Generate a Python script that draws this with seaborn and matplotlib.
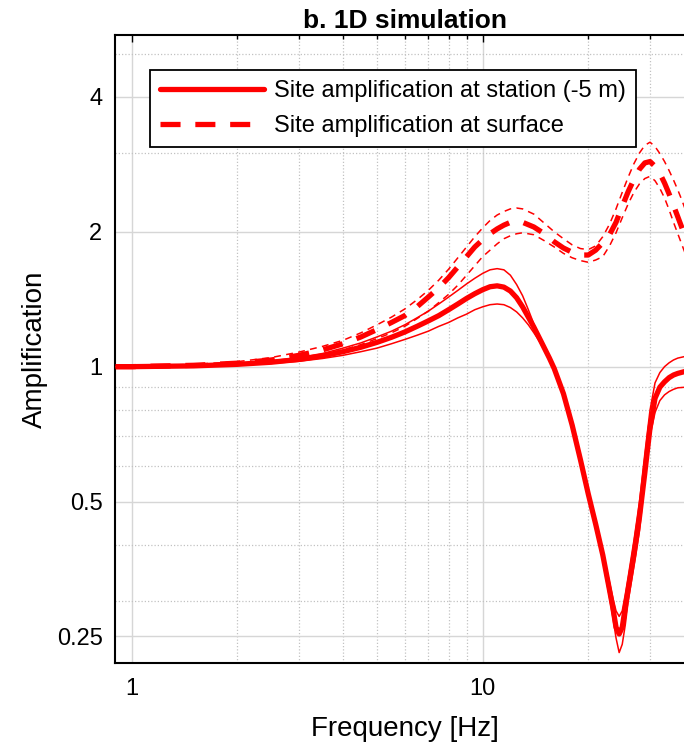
import numpy as np
import pandas as pd
import matplotlib
matplotlib.use("Agg")
import matplotlib.pyplot as plt
import seaborn as sns
from matplotlib.lines import Line2D
from matplotlib.ticker import FixedLocator, FixedFormatter, NullFormatter

# ---------------- data ----------------
freq_station = [0.9, 1, 1.5, 2, 2.5, 3, 3.5, 4, 4.5, 5,
                5.5, 6, 6.5, 7, 7.5, 8, 8.5, 9, 9.5, 10,
                10.5, 11, 11.5, 12, 12.5, 13, 13.5, 14, 14.5, 15,
                15.5, 16, 17, 18, 19, 20, 21, 22, 23, 23.5,
                24, 24.5, 25, 25.5, 26, 27, 28, 29, 30, 31,
                32, 33, 34, 35, 36, 38, 40]
station_mean = [1.0, 1.0, 1.004, 1.012, 1.023, 1.038, 1.057, 1.08, 1.105, 1.133,
                1.163, 1.195, 1.23, 1.265, 1.30, 1.34, 1.38, 1.42, 1.455, 1.485,
                1.508, 1.515, 1.505, 1.475, 1.425, 1.36, 1.29, 1.225, 1.16, 1.10,
                1.045, 0.99, 0.87, 0.74, 0.62, 0.52, 0.445, 0.38, 0.317, 0.29,
                0.262, 0.253, 0.262, 0.29, 0.318, 0.38, 0.462, 0.58, 0.73, 0.85,
                0.90, 0.925, 0.945, 0.958, 0.966, 0.977, 0.98]
station_upper = [1.0, 1.0, 1.006, 1.016, 1.03, 1.048, 1.07, 1.10, 1.13, 1.165,
                 1.20, 1.24, 1.285, 1.33, 1.38, 1.43, 1.48, 1.53, 1.575, 1.615,
                 1.645, 1.655, 1.645, 1.60, 1.525, 1.44, 1.34, 1.245, 1.165, 1.10,
                 1.045, 0.99, 0.87, 0.745, 0.625, 0.525, 0.45, 0.385, 0.33, 0.305,
                 0.285, 0.277, 0.285, 0.31, 0.34, 0.41, 0.50, 0.64, 0.80, 0.92,
                 0.97, 1.0, 1.02, 1.035, 1.045, 1.055, 1.06]
station_lower = [1.0, 1.0, 1.003, 1.009, 1.017, 1.028, 1.043, 1.06, 1.08, 1.10,
                 1.125, 1.15, 1.175, 1.20, 1.23, 1.255, 1.285, 1.31, 1.34, 1.36,
                 1.375, 1.38, 1.375, 1.355, 1.325, 1.285, 1.24, 1.19, 1.14, 1.09,
                 1.04, 0.985, 0.865, 0.735, 0.615, 0.515, 0.435, 0.37, 0.305, 0.276,
                 0.248, 0.23, 0.24, 0.265, 0.30, 0.36, 0.43, 0.56, 0.70, 0.79,
                 0.84, 0.865, 0.88, 0.89, 0.897, 0.90, 0.90]

freq_surface = [0.9, 1, 1.5, 2, 2.5, 3, 3.5, 4, 4.5, 5,
                5.5, 6, 6.5, 7, 7.5, 8, 8.5, 9, 9.5, 10,
                10.5, 11, 11.5, 12, 12.5, 13, 14, 15, 16, 17,
                18, 19, 20, 21, 22, 23, 24, 25, 26, 27,
                28, 29, 30, 31, 32, 33, 34, 35, 36, 37,
                38, 40]
surface_mean = [1.0, 1.0, 1.007, 1.018, 1.035, 1.06, 1.09, 1.125, 1.165, 1.21,
                1.255, 1.30, 1.36, 1.43, 1.50, 1.58, 1.67, 1.76, 1.85, 1.92,
                1.98, 2.03, 2.07, 2.10, 2.11, 2.10, 2.05, 1.98, 1.90, 1.84,
                1.80, 1.775, 1.775, 1.82, 1.89, 1.97, 2.10, 2.28, 2.46, 2.62,
                2.76, 2.85, 2.87, 2.80, 2.70, 2.57, 2.43, 2.29, 2.16, 2.04,
                1.93, 1.75]
surface_upper = [1.0, 1.002, 1.012, 1.026, 1.048, 1.078, 1.11, 1.145, 1.19, 1.24,
                 1.29, 1.345, 1.41, 1.48, 1.56, 1.65, 1.75, 1.85, 1.95, 2.04,
                 2.12, 2.18, 2.22, 2.25, 2.26, 2.25, 2.19, 2.09, 2.0, 1.93,
                 1.87, 1.835, 1.825, 1.86, 1.95, 2.08, 2.25, 2.45, 2.65, 2.84,
                 3.0, 3.12, 3.17, 3.10, 2.99, 2.87, 2.74, 2.61, 2.48, 2.35,
                 2.22, 2.0]
surface_lower = [1.0, 0.999, 1.003, 1.01, 1.022, 1.04, 1.065, 1.09, 1.12, 1.155,
                 1.19, 1.23, 1.28, 1.33, 1.39, 1.45, 1.52, 1.60, 1.68, 1.76,
                 1.82, 1.88, 1.93, 1.96, 1.98, 1.99, 1.97, 1.91, 1.85, 1.79,
                 1.75, 1.725, 1.71, 1.73, 1.76, 1.86, 1.99, 2.15, 2.31, 2.45,
                 2.56, 2.63, 2.66, 2.60, 2.50, 2.38, 2.24, 2.10, 1.98, 1.87,
                 1.77, 1.60]

y_ticks = [0.25, 0.5, 1, 2, 4]
y_ticklabels = ["0.25", "0.5", "1", "2", "4"]
y_minor = [0.3, 0.4, 0.6, 0.7, 0.8, 0.9, 3, 5]
x_ticks = [1, 10, 100]
x_ticklabels = ["1", "10", "100"]
x_minor = [2, 3, 4, 5, 6, 7, 8, 9, 20, 30, 40, 50, 60, 70, 80, 90]

legend_labels = ["Site amplification at station (-5 m)",
                 "Site amplification at surface"]
title = "b. 1D simulation"
xlabel = "Frequency [Hz]"
ylabel = "Amplification"

# ---------------- style ----------------
sns.set_style("white")
plt.rcParams["font.family"] = ["Liberation Sans", "DejaVu Sans"]
plt.rcParams["text.color"] = "black"
plt.rcParams["axes.labelcolor"] = "black"
plt.rcParams["xtick.color"] = "black"
plt.rcParams["ytick.color"] = "black"

RED = "#ff0000"
THICK = 3.8
THIN = 1.1
THICK_DASH = (3.8, 2.8)
THIN_DASH = (4.5, 3.5)

fig = plt.figure(figsize=(6.84, 7.46), dpi=100)
ax = fig.add_axes([115 / 684, 83 / 746, 580 / 684, 628 / 746])

def draw(x, y, lw, dashes=None):
    df = pd.DataFrame({"f": x, "a": y})
    sns.lineplot(data=df, x="f", y="a", ax=ax, color=RED, lw=lw,
                 estimator=None, sort=False, legend=False)
    line = ax.lines[-1]
    line.set_solid_capstyle("butt")
    if dashes is not None:
        line.set_dashes(dashes)
        line.set_dash_capstyle("butt")
    line.set_zorder(3)

# station (solid)
draw(freq_station, station_upper, THIN)
draw(freq_station, station_lower, THIN)
draw(freq_station, station_mean, THICK)
# surface (dashed)
draw(freq_surface, surface_upper, THIN, THIN_DASH)
draw(freq_surface, surface_lower, THIN, THIN_DASH)
draw(freq_surface, surface_mean, THICK, THICK_DASH)

ax.set_xscale("log")
ax.set_yscale("log")
ax.set_xlim(0.896, 40.3)
ax.set_ylim(0.218, 5.5)

ax.xaxis.set_major_locator(FixedLocator(x_ticks))
ax.xaxis.set_major_formatter(FixedFormatter(x_ticklabels))
ax.xaxis.set_minor_locator(FixedLocator(x_minor))
ax.xaxis.set_minor_formatter(NullFormatter())
ax.yaxis.set_major_locator(FixedLocator(y_ticks))
ax.yaxis.set_major_formatter(FixedFormatter(y_ticklabels))
ax.yaxis.set_minor_locator(FixedLocator(y_minor))
ax.yaxis.set_minor_formatter(NullFormatter())

ax.grid(which="major", color="#d6d6d6", lw=1.0, ls="-", zorder=0)
ax.grid(which="minor", color="#c2c2c2", lw=0.9, ls=(0, (1, 1.6)), zorder=0)
ax.set_axisbelow(True)

ax.tick_params(which="both", direction="in", top=True, right=True,
               color="black", width=1.0)
ax.tick_params(which="major", length=5, labelsize=17)
ax.tick_params(axis="x", which="major", pad=11)
ax.tick_params(axis="y", which="major", pad=9)
ax.tick_params(which="minor", length=3)

for s in ax.spines.values():
    s.set_color("black")
    s.set_linewidth(1.5)

ax.set_title(title, fontsize=19, fontweight="bold", pad=5, color="black")
ax.set_xlabel(xlabel, fontsize=20, labelpad=11)
ax.set_ylabel(ylabel, fontsize=20, labelpad=6)

handles = [Line2D([0], [0], color=RED, lw=THICK),
           Line2D([0], [0], color=RED, lw=THICK, dashes=THICK_DASH)]
leg = ax.legend(handles, legend_labels, loc="upper left",
                bbox_to_anchor=(35 / 580, 1 - 35 / 628), borderaxespad=0,
                fontsize=17, handlelength=4.4, handletextpad=0.45,
                labelspacing=0.55, borderpad=0.42, fancybox=False,
                framealpha=1, edgecolor="black")
leg.get_frame().set_linewidth(1.3)
leg.set_zorder(5)
for t in leg.get_texts():
    t.set_color("black")

fig.savefig("out.png", dpi=100)
